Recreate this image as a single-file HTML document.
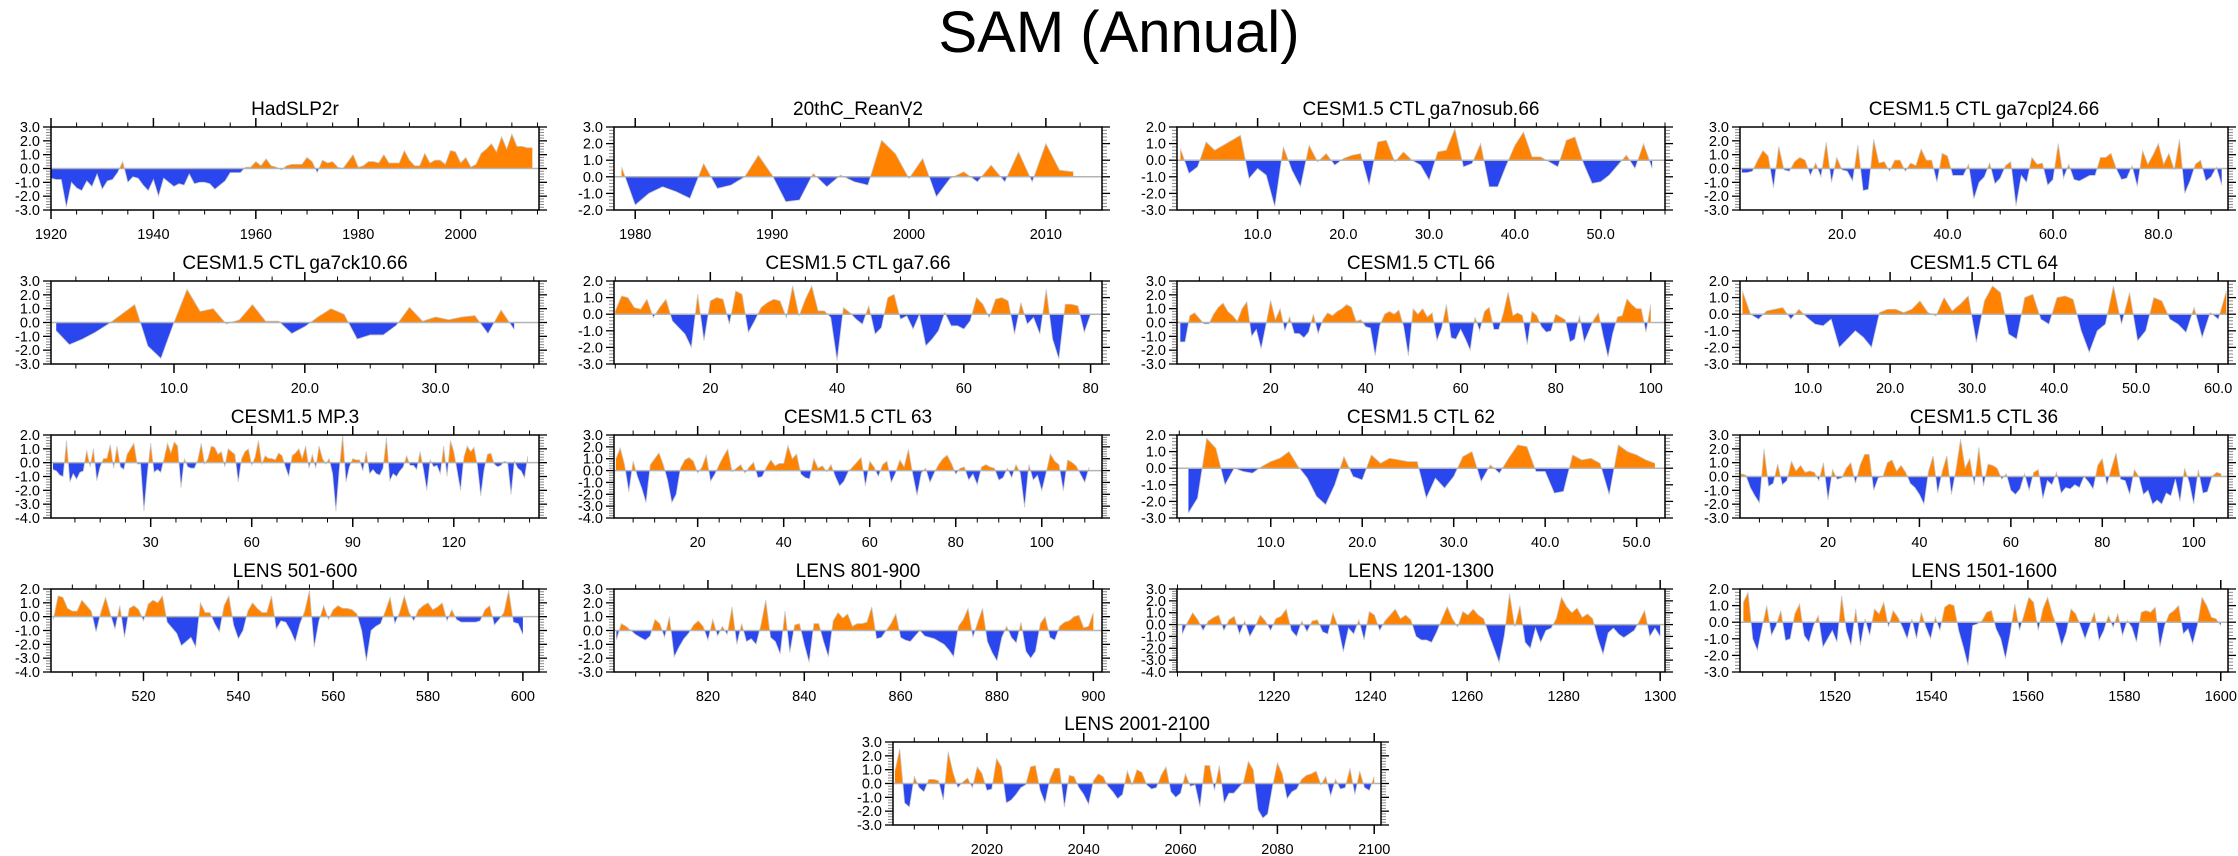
<!DOCTYPE html>
<html><head><meta charset="utf-8"><title>SAM (Annual)</title>
<style>html,body{margin:0;padding:0;background:#fff}svg{display:block;font-family:"Liberation Sans",Arial,sans-serif}</style>
</head><body>
<svg id="fig" width="2238" height="856" viewBox="0 0 2238 856" xmlns="http://www.w3.org/2000/svg">
<text x="1119" y="52" font-size="58" text-anchor="middle" fill="#000">SAM (Annual)</text>
</svg>
<script>
const titles = ["HadSLP2r","20thC_ReanV2","CESM1.5 CTL ga7nosub.66","CESM1.5 CTL ga7cpl24.66","CESM1.5 CTL ga7ck10.66","CESM1.5 CTL ga7.66","CESM1.5 CTL 66","CESM1.5 CTL 64","CESM1.5 MP.3","CESM1.5 CTL 63","CESM1.5 CTL 62","CESM1.5 CTL 36","LENS 501-600","LENS 801-900","LENS 1201-1300","LENS 1501-1600","LENS 2001-2100"];
const yMins = [-3,-2,-3,-3,-3,-3,-3,-3,-4,-4,-3,-3,-4,-3,-4,-3,-3];
const yMaxs = [3,3,2,3,3,2,3,2,2,3,2,3,2,3,3,2,3];
const xMins = [1920,1978.45,0.6,0.65,0.6,4.8,0.3,1.7,0.4,0.55,-0.25,0.75,500.5,800.5,1199.9,1500.3,2000.6];
const xMaxs = [2015.3,2014.1,57.5,93.2,37.9,81.8,103,61.2,145.3,114,53.1,107.5,603.4,901.8,1301,1601.5,2101.4];
const tickStarts = [1920,1980,10,20,10,20,20,10,30,20,10,20,520,820,1220,1520,2020];
const tickSteps = [20,10,10,20,10,20,20,10,30,20,10,20,20,20,20,20,20];
const tickDecimals = [0,0,1,1,1,0,0,1,0,0,1,0,0,0,0,0,0];
const dataStarts = [1920,1979,1,1,1,5,1,2,1,1,1,1,501,801,1201,1501,2001];
const dataEnds = [2014,2012,56,92,36,80,100,61,142,111,52,106,600,900,1300,1600,2100];

const vHad = [-0.7,-0.8,-0.8,-2.8,-1.0,-1.4,-1.6,-0.9,-1.3,-0.4,-1.5,-0.9,-0.8,-0.3,0.5,-1.0,-0.6,-0.7,-1.2,-1.6,-0.8,-2.0,-0.7,-1.0,-1.3,-1.1,-1.2,-0.4,-1.1,-1.0,-1.0,-1.1,-1.5,-1.2,-0.9,-0.3,-0.3,-0.3,0.1,0.1,0.5,0.2,0.7,0.2,0.1,-0.1,0.2,0.3,0.3,0.3,0.8,0.5,-0.3,0.6,0.4,0.5,0.1,0.0,0.5,1.0,0.1,0.2,0.5,0.5,0.4,1.0,0.4,0.4,0.4,1.3,0.6,0.2,0.2,1.1,0.4,0.6,0.6,0.3,1.3,1.2,0.4,0.8,0.1,0.3,1.1,1.4,1.8,1.2,2.3,1.4,2.5,1.6,1.6,1.5,1.5];
const v20c = [0.6,-1.7,-1.0,-0.6,-0.9,-1.3,0.8,-0.7,-0.5,0.0,1.3,0.1,-1.5,-1.4,0.2,-0.6,0.1,-0.3,-0.5,2.2,1.4,-0.1,1.1,-1.2,-0.1,0.3,-0.3,0.7,-0.3,1.5,-0.3,2.0,0.4,0.3];
const vNosub = [0.7,-0.8,-0.4,1.1,0.6,0.9,1.2,1.5,-1.1,-0.5,-0.9,-2.8,0.8,-0.6,-1.6,0.9,-0.1,0.4,-0.3,0.1,0.3,0.4,-1.5,1.1,1.2,-0.1,0.5,0.0,-0.3,-1.2,0.5,0.6,1.9,-0.4,-0.2,1.0,-1.6,-1.6,-0.3,0.9,1.7,0.2,0.2,-0.1,-0.4,1.2,1.4,-0.2,-1.4,-1.3,-0.9,-0.3,0.3,-0.5,1.0,-0.5];
const vCpl24 = [-0.3,-0.3,-0.2,0.6,1.3,0.9,-1.4,1.6,-0.1,-0.2,0.5,0.8,0.6,-0.5,0.4,-0.6,1.9,-1.0,0.8,-0.1,-0.2,-0.9,1.7,-1.6,-1.5,2.1,0.4,0.5,-0.2,0.6,0.6,-0.2,0.4,0.2,1.4,0.6,0.6,-1.0,1.1,0.9,-0.5,-0.5,-0.5,0.3,-2.2,-1.0,-0.6,0.4,-1.1,-0.7,0.2,0.5,-2.7,-0.5,-1.0,0.8,0.3,0.4,-1.2,-0.8,1.8,-0.7,0.3,-0.8,-0.9,-0.7,-0.5,-0.5,0.8,0.8,1.1,0.0,-0.8,-0.7,0.2,-1.3,1.3,0.3,1.0,1.8,0.3,1.1,-0.1,2.1,-1.8,-0.9,0.3,0.6,-0.9,-0.6,0.1,-1.2];
const vCk10 = [-0.6,-1.6,-1.2,-0.7,-0.1,0.6,1.3,-1.7,-2.6,0.0,2.4,0.8,1.0,-0.1,0.2,1.3,0.1,0.1,-0.8,-0.3,0.4,1.0,0.6,-1.2,-0.9,-0.9,-0.2,1.1,0.1,0.4,0.2,0.4,0.5,-0.8,0.9,-0.5];
const vGa7 = [0.2,1.1,1.0,0.4,0.3,0.9,-0.2,0.4,0.9,-0.4,-0.8,-1.2,-2.0,1.2,-1.6,0.8,1.0,0.9,-0.6,1.4,1.2,-1.1,-0.4,0.4,0.7,0.9,0.8,-0.2,1.7,-0.1,0.9,1.7,0.2,0.2,-0.2,-2.8,0.4,0.1,-0.3,-0.6,0.5,-1.2,-0.8,1.0,1.2,-0.3,-0.1,-0.9,0.0,-1.9,-1.5,-1.0,0.1,-0.7,-0.7,-0.9,-0.4,1.0,0.6,-0.2,0.9,1.0,0.8,-1.2,0.7,-0.6,-0.2,-1.2,1.5,-1.5,-2.7,0.6,0.6,0.5,-1.1,0.0];
const v66 = [-1.4,-1.4,0.5,0.7,0.3,-0.1,-0.1,0.6,1.1,1.4,0.8,0.5,0.1,1.0,1.5,-1.0,-0.5,-1.9,-0.2,1.6,0.2,1.0,-0.6,0.4,-0.8,-0.8,-1.1,-0.7,0.6,-0.8,0.2,0.7,0.5,0.8,1.0,1.3,1.1,0.1,0.2,-0.3,-0.4,-2.4,-0.2,0.6,0.8,0.6,0.9,-0.3,-2.4,1.0,0.6,1.0,0.4,0.7,-1.3,-0.4,1.3,-1.1,-1.2,-0.5,-1.2,-2.0,0.4,-0.6,0.8,1.1,-0.5,-0.5,0.7,2.2,0.5,0.7,0.5,-1.6,0.8,0.5,-0.3,-0.7,-0.6,0.6,0.4,0.2,-1.4,-1.2,0.5,-1.4,-0.6,0.2,0.7,-1.0,-2.5,-0.8,0.4,0.5,1.7,1.3,1.0,1.0,-0.7,1.3];
const v64 = [1.4,0.0,-0.3,0.2,0.3,0.4,-0.3,0.3,-0.2,-0.6,-0.7,-0.3,-2.0,-1.5,-1.0,-1.4,-2.0,0.1,0.3,0.3,0.1,0.3,0.8,0.1,-0.1,1.0,0.2,0.6,1.1,-1.7,0.8,1.7,1.3,-1.2,-1.5,1.0,1.2,-0.3,-0.6,1.0,1.1,0.9,-1.0,-2.3,-1.0,-0.6,1.7,-0.6,1.3,-1.6,-1.0,1.0,0.8,-0.3,-0.6,-1.1,0.4,-1.4,0.1,-0.3,1.4];
const vMp3 = [-0.5,-0.6,-0.9,-1.0,1.6,-1.4,-0.8,-1.2,-0.7,-0.6,0.9,-0.3,1.0,-1.3,-0.3,0.3,0.3,1.3,-0.4,1.2,-0.3,-0.5,0.6,1.0,1.4,-0.1,-0.1,-3.5,-0.8,1.4,-0.7,-0.5,-0.7,0.3,1.4,0.7,1.5,1.2,-1.8,0.3,-0.3,-0.4,-0.4,0.2,1.4,-0.1,0.3,1.2,1.1,0.6,0.8,-0.3,1.0,0.8,0.6,-1.4,0.3,0.8,1.0,-0.2,0.4,1.6,-0.1,0.5,0.3,0.3,0.2,0.7,0.5,-0.3,-1.0,0.5,0.7,1.0,0.3,1.2,-0.4,0.6,-0.4,1.2,0.3,-0.1,0.3,-0.8,-3.5,-0.5,2.0,-1.4,-0.3,0.3,0.2,0.2,-0.6,0.8,-0.8,-0.5,-0.8,-0.9,-0.4,1.8,-1.3,-0.8,-1.0,-0.6,-0.3,0.5,-0.2,-0.2,-0.5,0.8,-0.5,-2.0,0.2,-0.3,-0.2,-0.8,1.2,-1.0,1.6,0.8,-0.6,-2.0,0.4,1.2,0.8,1.1,-0.2,-2.4,-0.5,0.6,0.7,-0.1,-0.3,-0.2,0.1,0.0,-2.3,0.1,-0.4,-0.6,-1.1,0.5];
const v63 = [1.0,1.9,0.5,-1.8,0.8,-0.5,-1.5,-2.7,0.5,1.0,1.5,0.5,-0.8,-2.7,-2.0,0.2,0.9,1.1,0.8,-0.2,0.3,1.3,-0.9,-0.3,0.5,1.2,1.8,-0.1,0.2,0.5,-0.2,0.3,0.7,-0.6,-0.5,0.3,0.9,0.4,0.6,0.6,2.1,1.0,1.4,-0.3,-0.6,-0.7,1.0,0.2,0.4,-0.1,0.5,-0.5,-1.3,-0.9,-0.1,0.3,0.7,1.1,-1.3,0.8,0.3,-0.5,0.5,0.8,-1.0,-0.2,0.9,0.3,1.8,-0.3,-2.1,-0.2,0.2,-1.0,-0.2,0.5,1.0,1.3,0.6,-0.3,0.2,0.3,-0.8,-0.3,-1.2,0.3,0.5,0.3,0.2,-0.8,-0.6,0.2,-0.6,0.5,-0.2,-3.1,0.5,-0.8,-0.4,-1.7,-0.2,1.4,0.8,0.5,-1.7,0.9,0.7,0.4,-0.3,-1.0,0.3];
const v62 = [-2.7,-1.8,1.8,1.2,-1.0,0.0,-0.2,-0.3,0.1,0.4,0.6,1.0,0.1,-0.6,-1.7,-2.2,-1.0,0.7,-0.5,-0.7,0.8,0.3,0.6,0.5,0.4,0.4,-1.8,-0.6,-1.2,-0.5,0.7,1.0,-0.8,0.2,-0.3,0.6,1.4,1.3,-0.2,-0.2,-1.5,-1.4,0.8,0.5,0.6,0.3,-1.6,1.4,1.0,0.8,0.5,0.3];
const v36 = [0.2,0.1,-0.8,-1.4,-1.9,2.0,-0.7,-0.5,0.9,-0.6,-0.3,1.1,0.4,0.8,0.3,0.4,0.3,-0.3,1.0,-1.7,0.5,-0.2,-0.1,0.6,1.0,-0.5,0.8,1.6,1.6,-1.0,-0.1,0.0,1.0,1.2,0.4,0.8,0.3,-0.5,-0.8,-1.3,-2.0,0.4,1.5,-1.2,0.4,1.5,-1.3,0.5,2.7,0.6,1.3,-0.6,2.1,-0.7,0.9,0.8,0.6,-0.2,0.2,-1.0,-1.3,-0.9,0.2,-1.0,0.3,0.5,-1.6,-0.3,-0.6,0.3,-1.2,-0.8,-0.9,-0.6,-0.8,0.0,-0.4,-0.9,0.8,1.3,-0.6,0.6,1.7,-0.2,-0.3,-1.3,0.5,0.0,-1.3,-1.0,-2.0,-1.7,-2.0,-1.2,-1.4,-0.2,-1.8,0.6,-0.4,-2.0,0.5,-1.2,-1.1,0.0,0.3,0.2];
const v501 = [-0.2,1.5,1.4,0.6,0.4,0.4,1.2,0.8,0.4,-1.1,0.3,1.4,0.2,-0.9,0.8,-1.5,0.6,0.8,0.5,-0.3,0.9,1.2,1.0,1.5,-0.4,-0.8,-1.2,-2.1,-1.8,-1.5,-2.2,1.0,0.3,0.3,-0.5,-1.1,0.8,1.5,-0.6,-1.6,-1.0,0.4,1.0,0.6,0.3,0.3,1.5,-0.9,-0.3,-0.4,-1.0,-1.8,-0.5,0.4,1.9,-2.2,-0.3,0.8,-0.2,0.5,0.8,0.6,0.6,0.5,0.2,-1.0,-3.2,-1.0,-0.7,-0.5,0.4,1.4,-0.5,0.3,1.5,0.3,-0.3,0.5,0.8,1.0,0.5,0.7,1.0,-0.3,0.5,-0.2,-0.4,-0.4,-0.4,-0.4,-0.3,0.5,0.8,-0.6,-0.2,0.3,1.9,-0.4,-0.5,-1.3];
const v801 = [-0.7,0.5,0.3,0.0,-0.3,-0.5,-0.7,-0.4,0.8,0.5,-0.5,1.0,-1.9,-1.2,-0.6,-0.2,0.4,0.7,0.3,-0.7,0.8,-0.4,0.3,-0.3,1.7,-1.0,0.5,-0.8,-0.6,-1.0,0.4,2.2,-0.5,-0.8,-1.7,1.4,-1.6,0.4,0.5,-1.0,-2.3,0.5,0.5,-0.8,-1.9,0.7,1.3,0.9,1.2,0.3,0.5,0.5,0.6,1.7,-0.6,-0.5,0.0,0.5,1.2,-0.5,-0.7,-0.8,-0.4,0.0,-0.4,-0.5,-0.6,-0.8,-1.0,-1.4,-1.9,0.3,0.8,1.6,-0.5,0.6,1.6,-0.8,-1.6,-2.2,-0.5,0.3,-0.5,-0.9,0.6,-1.5,-2.0,-1.5,0.5,1.0,-0.5,-0.7,0.3,0.6,0.7,1.0,1.1,0.2,0.3,1.3];
const v1201 = [-0.8,0.2,1.0,0.4,-0.5,0.3,0.6,0.8,-0.5,0.4,0.7,-0.8,0.3,-1.0,-0.2,0.8,0.3,-0.5,0.5,0.7,1.3,-0.5,-1.0,0.3,-0.6,0.3,0.4,-0.6,-0.8,1.0,-0.2,-2.3,-0.3,-0.8,0.4,-1.3,1.1,0.8,-0.5,0.3,0.8,1.3,0.5,0.8,0.4,-1.0,-1.3,-1.3,-1.5,-0.6,0.5,1.5,0.5,-0.2,1.1,0.8,1.3,0.8,0.5,-0.8,-2.0,-3.2,-0.9,2.6,-0.2,1.6,-1.5,-2.0,-0.3,-1.5,-0.5,-0.3,0.5,2.3,1.5,1.0,1.4,0.6,0.9,0.5,-1.2,-2.5,-0.7,-0.3,-0.8,-1.1,-0.8,-0.5,0.3,1.2,-1.0,-0.3,-1.0];
const v1501 = [1.2,1.8,-1.0,-1.7,-0.3,1.0,-0.8,-0.2,0.7,-1.1,-1.0,0.5,1.1,-0.8,-1.2,-0.2,0.4,-1.5,-1.0,-0.5,-1.2,1.6,-0.5,-1.4,0.8,-1.4,0.2,-0.8,0.8,0.5,1.2,-0.3,0.7,0.3,-0.3,-1.0,0.2,-1.0,0.6,-0.3,-1.0,0.3,-0.5,0.9,1.1,1.0,-0.5,-1.5,-2.6,-0.2,-0.1,0.1,0.6,0.7,-0.4,-1.0,-2.2,-0.7,1.1,-0.5,0.5,1.5,1.2,-0.5,0.8,1.5,0.5,-0.3,-1.4,-0.6,0.8,0.5,-0.2,-1.0,-0.2,0.6,-1.1,-0.5,0.4,-0.3,0.5,-0.8,0.1,-0.3,-1.2,0.6,0.7,0.6,0.9,-1.5,-0.2,0.5,0.7,1.0,-0.7,-0.4,-1.3,-0.2,1.5,1.0,0.3,0.2,-0.2];
const v2001 = [0.9,2.5,-1.4,-1.7,0.5,-0.3,-0.6,0.3,0.3,0.2,-1.2,2.3,0.8,-0.3,0.1,0.4,-0.3,1.2,0.7,-0.5,-0.4,1.8,1.2,-1.4,-1.2,-0.8,-0.3,-0.1,1.2,1.3,-0.5,-1.4,0.3,1.1,1.1,-1.7,0.6,0.5,-0.3,-0.8,-1.5,0.2,0.7,0.5,-0.2,-0.6,-1.1,-0.8,0.9,-0.1,1.0,0.8,-0.1,-0.4,-0.3,0.6,1.2,-0.6,-1.0,-0.7,0.7,-0.2,-0.1,-1.7,1.3,1.3,-0.5,1.3,-1.4,-0.7,-0.7,-0.3,0.1,1.6,1.0,-1.9,-2.5,-2.2,-0.2,1.5,0.7,-1.1,-0.6,-0.4,0.3,0.6,0.7,0.9,-0.1,0.5,-0.9,0.3,-0.4,-0.3,1.1,-0.8,0.9,-0.3,-0.5,0.5];
const seriesList = [vHad,v20c,vNosub,vCpl24,vCk10,vGa7,v66,v64,vMp3,v63,v62,v36,v501,v801,v1201,v1501,v2001];

const NS = "http://www.w3.org/2000/svg";
const svg = document.getElementById('fig');
function mk(tag, attrs, parent){const e=document.createElementNS(NS,tag);for(const k in attrs)e.setAttribute(k,attrs[k]);(parent||svg).appendChild(e);return e;}
const colLefts=[51,614,1177,1740], rowTops=[127,281,435,589,742], PW=488, PH=83;
const ORANGE="#ff8200", BLUE="#2a46ee";

function drawPanel(k){
  const L = k<16 ? colLefts[k%4] : 893;
  const T = rowTops[Math.floor(k/4)];
  const g = mk('g',{});
  
  
  const x0=xMins[k], x1=xMaxs[k], y0=yMins[k], y1=yMaxs[k];
  const sx = v => L + (v-x0)/(x1-x0)*PW;
  const sy = v => T + (y1-v)/(y1-y0)*PH;
  const t = mk('text',{x:L+PW/2,y:T-12,'font-size':19,'text-anchor':'middle',fill:'#000'},g);
  t.textContent = titles[k];
  
  
  const vals = seriesList[k], n = vals.length, ds=dataStarts[k], de=dataEnds[k];
  const xs = vals.map((v,i)=> ds + i*(de-ds)/(n-1));
  const zy = sy(0);
  let d = 'M'+sx(xs[0]).toFixed(2)+','+zy.toFixed(2);
  let ld = '';
  vals.forEach((v,i)=>{const px=sx(xs[i]).toFixed(2),py=sy(v).toFixed(2); d+=' L'+px+','+py; ld+=(i?' L':'M')+px+','+py;});
  d += ' L'+sx(xs[n-1]).toFixed(2)+','+zy.toFixed(2)+' Z';
  const cid='c'+k;
  const defs=mk('defs',{},g);
  const cp1=mk('clipPath',{id:cid+'p'},defs); mk('rect',{x:L,y:T,width:PW,height:zy-T},cp1);
  const cp2=mk('clipPath',{id:cid+'n'},defs); mk('rect',{x:L,y:zy,width:PW,height:T+PH-zy},cp2);
  const ap=mk('path',{d:d,fill:ORANGE,'clip-path':'url(#'+cid+'p)'},g);
  
  
  const an=mk('path',{d:d,fill:BLUE,'clip-path':'url(#'+cid+'n)'},g);
  
  
  const ln=mk('path',{d:ld,fill:'none',stroke:'#c8c8c8','stroke-width':0.8},g);
  
  
  const zl=mk('line',{x1:L,x2:L+PW,y1:zy,y2:zy,stroke:'#b4b4b4','stroke-width':1.5},g);
  
  
  for(let v=y0; v<=y1+1e-9; v+=1){
    const y=sy(v);
    mk('line',{x1:L-8,x2:L,y1:y,y2:y,stroke:'#000','stroke-width':1.3},g);
    mk('line',{x1:L+PW,x2:L+PW+8,y1:y,y2:y,stroke:'#000','stroke-width':1.3},g);
    const yl=mk('text',{x:L-11,y:y+5,'font-size':14.5,'text-anchor':'end',fill:'#000'},g);
    yl.textContent=v.toFixed(1);
    
    
    if(v<y1){for(let m=1;m<5;m++){const ym=sy(v+m*0.2);
      mk('line',{x1:L-5,x2:L,y1:ym,y2:ym,stroke:'#888','stroke-width':1},g);
      mk('line',{x1:L+PW,x2:L+PW+5,y1:ym,y2:ym,stroke:'#888','stroke-width':1},g);}}
  }
  const st=tickSteps[k], mstep=st/4;
  let mstart = tickStarts[k] - Math.floor((tickStarts[k]-x0)/mstep)*mstep;
  for(let v=mstart; v<=x1+1e-9; v+=mstep){
    const x=sx(v);
    const isMaj = Math.abs(((v-tickStarts[k])/st) - Math.round((v-tickStarts[k])/st))<1e-6 && v>=tickStarts[k]-1e-6;
    const len = isMaj?9:4.5;
    mk('line',{x1:x,x2:x,y1:T-len,y2:T,stroke:'#000','stroke-width':isMaj?1.5:1},g);
    mk('line',{x1:x,x2:x,y1:T+PH,y2:T+PH+len,stroke:'#000','stroke-width':isMaj?1.5:1},g);
    if(isMaj){
      const xl=mk('text',{x:x,y:T+PH+29,'font-size':14.5,'text-anchor':'middle',fill:'#000'},g);
      xl.textContent=v.toFixed(tickDecimals[k]);
      
      
    }
  }
  const fr=mk('rect',{x:L,y:T,width:PW,height:PH,fill:'none',stroke:'#000','stroke-width':1.5},g);
  
  
}
for(let k=0;k<titles.length;k++) drawPanel(k);
</script>
</body></html>
